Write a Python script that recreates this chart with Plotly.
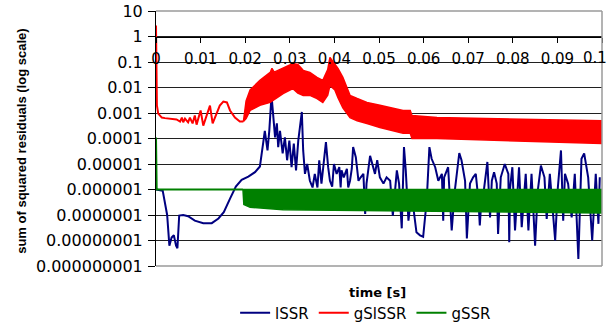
import plotly.graph_objects as go

# ---------------- data ----------------
lssr_t = [0, 0.0015, 0.0025, 0.003, 0.0035, 0.004, 0.0045, 0.0048, 0.0052, 0.0061,
          0.0072, 0.0087, 0.0106, 0.0125, 0.014, 0.0152, 0.0166, 0.0179, 0.0192, 0.0207,
          0.0222, 0.0233, 0.0241, 0.0244, 0.025, 0.0254, 0.0259, 0.0263, 0.0267, 0.0271,
          0.0274, 0.0278, 0.0284, 0.0289, 0.0294, 0.0299, 0.0304, 0.0309, 0.0314, 0.0319,
          0.0323, 0.0327, 0.033, 0.0334, 0.0339, 0.0345, 0.0351, 0.0356, 0.0362, 0.0366,
          0.0371, 0.0377, 0.0381, 0.0386, 0.039, 0.0395, 0.0399, 0.0405, 0.0411, 0.0414,
          0.0416, 0.0421, 0.0428, 0.0431, 0.0435, 0.0439, 0.0442, 0.0448, 0.0454, 0.0459,
          0.0465, 0.0469, 0.0472, 0.048, 0.0486, 0.0491, 0.0496, 0.0502, 0.051, 0.0517,
          0.0525, 0.0531, 0.054, 0.0545, 0.0551, 0.0556, 0.056, 0.0566, 0.0573, 0.0578,
          0.0584, 0.0592, 0.0599, 0.0607, 0.0613, 0.0618, 0.0626, 0.0633, 0.0641, 0.0644,
          0.0646, 0.0655, 0.0663, 0.067, 0.068, 0.0685, 0.0693, 0.0697, 0.0704, 0.0711,
          0.0717, 0.0723, 0.0726, 0.073, 0.0735, 0.0743, 0.0749, 0.0753, 0.0758, 0.0764,
          0.0767, 0.0773, 0.0782, 0.079, 0.0792, 0.0794, 0.0799, 0.0805, 0.0814, 0.082,
          0.0829, 0.0835, 0.0842, 0.085, 0.0856, 0.0863, 0.0871, 0.0876, 0.0883, 0.0895,
          0.0901, 0.0908, 0.0913, 0.0917, 0.0924, 0.0932, 0.0939, 0.0947, 0.0954, 0.096,
          0.0969, 0.0978, 0.0986, 0.0992, 0.0995]
lssr_v = [1e-6, 9e-7, 1e-7, 6.3e-9, 1.3e-8, 1.6e-8, 6.3e-9, 5e-9, 9.5e-8, 1e-7,
          9e-8, 6e-8, 4.8e-8, 4.8e-8, 7.3e-8, 1.3e-7, 4.4e-7, 1.3e-6, 2.4e-6, 3.2e-6,
          4.8e-6, 8e-6, 8.3e-5, 2e-4, 3.4e-5, 2e-4, 4.9e-3, 6.9e-4, 1.1e-4, 3.9e-4,
          4.6e-5, 2e-4, 2.6e-5, 1.1e-4, 1.4e-5, 8.3e-5, 7.5e-6, 6.3e-5, 5.6e-6, 8.3e-5,
          3.9e-4, 1.1e-3, 3.4e-5, 4.1e-6, 1e-5, 2.2e-6, 1.2e-6, 4.1e-6, 1.2e-6, 1.4e-5,
          1.7e-6, 1.4e-5, 7.2e-5, 7.5e-6, 2.2e-6, 1.3e-6, 1e-5, 4.1e-6, 7.5e-6, 1.2e-6,
          5.6e-6, 3e-6, 6.5e-6, 1.2e-6, 2.2e-6, 6.5e-6, 4.6e-5, 1.85e-5, 2.2e-6, 3e-6,
          4.1e-6, 1.1e-7, 1.7e-6, 2.1e-5, 8.7e-6, 4.1e-6, 1.4e-5, 3e-6, 1.7e-6, 3e-6,
          2.2e-6, 9.5e-8, 5.6e-6, 1.7e-6, 3e-8, 4.6e-5, 5.6e-6, 6e-8, 7e-7, 1.5e-7,
          2.1e-8, 1.6e-8, 1.4e-8, 3.7e-7, 4.6e-5, 1.6e-5, 7.5e-6, 2.2e-6, 4.1e-6, 6e-8,
          3e-6, 7.5e-6, 2.5e-8, 9e-7, 2.7e-5, 1.4e-5, 2.2e-6, 1.2e-8, 1.7e-6, 3e-6,
          4.1e-6, 3.7e-7, 3.9e-8, 5e-7, 9e-7, 1.2e-5, 8e-8, 2.2e-6, 4.8e-6, 1.7e-6,
          1.8e-8, 3e-6, 1e-5, 4.1e-6, 8.5e-9, 1.2e-6, 7.5e-6, 2.5e-8, 7.5e-6, 3.3e-8,
          4.1e-6, 2.5e-8, 4.1e-6, 6.3e-9, 9e-7, 8.7e-6, 3e-6, 7e-8, 4.1e-6, 1e-8,
          1.2e-6, 3.4e-5, 6e-8, 4.1e-6, 1.7e-6, 8e-8, 4.1e-6, 1.9e-9, 1.6e-5, 2.6e-5,
          3e-6, 1e-8, 4.1e-6, 4.5e-8, 3e-6]

# gSlSSR: single line until the oscillation becomes a dense band
gslssr_t = [0, 0.0002, 0.0005, 0.0013, 0.002, 0.0028, 0.0039, 0.0046, 0.0054, 0.0058,
            0.0061, 0.0065, 0.0072, 0.0076, 0.0082, 0.0087, 0.0091, 0.0100, 0.0106, 0.0112,
            0.0121, 0.0127, 0.0136, 0.0143, 0.0151, 0.0159, 0.0166, 0.0177, 0.0188, 0.0196]
gslssr_v = [2.7, 2e-3, 9.5e-4, 6.6e-4, 6.3e-4, 6e-4, 5.6e-4, 5.6e-4, 4.6e-4, 6.6e-4,
            4.3e-4, 6e-4, 4.3e-4, 6.6e-4, 3.9e-4, 8e-4, 3.5e-4, 1.26e-3, 3.2e-4, 6.6e-4,
            1.96e-3, 3.9e-4, 9.5e-4, 1.96e-3, 2.8e-3, 2.6e-3, 1.26e-3, 6.6e-4, 4.6e-4, 4.6e-4]
# gSlSSR band envelope (upper / lower extremes of the dense oscillation)
gslssr_band_t = [0.0196, 0.0202, 0.0211, 0.0233, 0.0256, 0.026, 0.0265, 0.0285, 0.0307, 0.0318,
                 0.033, 0.0345, 0.0361, 0.0374, 0.0385, 0.039, 0.0401, 0.0408, 0.0419, 0.0435,
                 0.0451, 0.0473, 0.0502, 0.0554, 0.057, 0.0574, 0.063, 0.0778, 0.1]
gslssr_band_hi = [4.6e-4, 3e-3, 8e-3, 0.019, 0.039, 0.056, 0.04, 0.056, 0.087, 0.08,
                  0.047, 0.039, 0.025, 0.019, 0.05, 0.15, 0.087, 0.056, 0.025, 4.9e-3,
                  3.7e-3, 2.6e-3, 2e-3, 1.26e-3, 1.26e-3, 8e-4, 6.6e-4, 6e-4, 5e-4]
gslssr_band_lo = [4.6e-4, 6e-4, 1.26e-3, 2e-3, 2.6e-3, 3e-3, 3.5e-3, 5.8e-3, 9e-3, 6e-3,
                  4.9e-3, 4.9e-3, 3.7e-3, 2.6e-3, 5e-3, 0.012, 8e-3, 4e-3, 1.6e-3, 6.6e-4,
                  5e-4, 3.9e-4, 2.7e-4, 1.6e-4, 1.6e-4, 1e-4, 1e-4, 8.3e-5, 6.3e-5]

# gSSR
gssr_t = [0, 0.00015, 0.0195]
gssr_v = [1.1e-4, 1e-6, 1e-6]
gssr_band_t = [0.0195, 0.0197, 0.0211, 0.0285, 0.05, 0.075, 0.1]
gssr_band_hi = [1e-6, 1e-6, 1e-6, 1e-6, 1e-6, 1e-6, 1e-6]
gssr_band_lo = [1e-6, 2.6e-7, 2e-7, 1.6e-7, 1.5e-7, 1.3e-7, 1.2e-7]

x_ticks = [0, 0.01, 0.02, 0.03, 0.04, 0.05, 0.06, 0.07, 0.08, 0.09, 0.1]
# the label of the last tick ("0.1") is drawn as an annotation so it stays inside the picture
x_tick_text = ["0", "0.01", "0.02", "0.03", "0.04", "0.05", "0.06", "0.07", "0.08", "0.09", ""]
x_last_label = "0.1"
y_ticks = [10, 1, 0.1, 0.01, 0.001, 0.0001, 0.00001, 0.000001, 0.0000001, 0.00000001, 0.000000001]
y_tick_text = ["10", "1", "0.1", "0.01", "0.001", "0.0001", "0.00001", "0.000001",
               "0.0000001", "0.00000001", "0.000000001"]

BLUE = "#000080"
RED = "#FF0000"
GREEN = "#008000"

fig = go.Figure()
fig.add_trace(go.Scatter(x=lssr_t, y=lssr_v, mode="lines", name="lSSR",
                         line=dict(color=BLUE, width=2), legendgroup="l"))
fig.add_trace(go.Scatter(x=gslssr_t, y=gslssr_v, mode="lines", name="gSlSSR",
                         line=dict(color=RED, width=2), legendgroup="gs"))
fig.add_trace(go.Scatter(x=gslssr_band_t + gslssr_band_t[::-1],
                         y=gslssr_band_hi + gslssr_band_lo[::-1],
                         mode="lines", fill="toself", fillcolor=RED,
                         line=dict(color=RED, width=1.5), legendgroup="gs",
                         showlegend=False, name="gSlSSR"))
fig.add_trace(go.Scatter(x=gssr_t, y=gssr_v, mode="lines", name="gSSR",
                         line=dict(color=GREEN, width=2), legendgroup="g"))
fig.add_trace(go.Scatter(x=gssr_band_t + gssr_band_t[::-1],
                         y=gssr_band_hi + gssr_band_lo[::-1],
                         mode="lines", fill="toself", fillcolor=GREEN,
                         line=dict(color=GREEN, width=1.5), legendgroup="g",
                         showlegend=False, name="gSSR"))

fig.update_layout(
    width=610, height=328,
    margin=dict(l=156, r=8, t=11, b=62, autoexpand=False),
    paper_bgcolor="white", plot_bgcolor="white",
    showlegend=True,
    legend=dict(orientation="h", x=0.47, xanchor="center", y=-0.184, yanchor="middle",
                font=dict(family="DejaVu Sans", size=15, color="#000000"),
                itemwidth=30, tracegroupgap=0, bgcolor="rgba(0,0,0,0)"),
    xaxis=dict(range=[0, 0.1], tickvals=x_ticks, ticktext=x_tick_text,
               anchor="free", position=0.9, side="bottom", automargin=False,
               showline=True, linecolor="#000000", linewidth=1,
               ticks="outside", ticklen=5, tickcolor="#000000",
               showgrid=False, zeroline=False,
               tickfont=dict(family="DejaVu Sans", size=15, color="#000000"),
               ticklabelstandoff=3, ticklabeloverflow="allow"),
    yaxis=dict(type="log", range=[-9, 1], tickvals=y_ticks, ticktext=y_tick_text,
               automargin=False,
               showline=True, linecolor="#000000", linewidth=1,
               ticks="outside", ticklen=7, tickcolor="#000000",
               showgrid=True, gridcolor="#202020", gridwidth=1,
               zeroline=False,
               tickfont=dict(family="DejaVu Sans", size=16, color="#000000"),
               ticklabelstandoff=2, ticklabeloverflow="allow"),
    shapes=[
        dict(type="line", xref="paper", yref="paper", x0=1, x1=1, y0=0, y1=1,
             line=dict(color="#9a9a9a", width=1.5)),
        dict(type="line", xref="paper", yref="paper", x0=0, x1=1, y0=1, y1=1,
             line=dict(color="#9a9a9a", width=1.5)),
        dict(type="line", xref="paper", yref="paper", x0=0, x1=1, y0=0, y1=0,
             line=dict(color="#9a9a9a", width=1.5)),
    ],
    annotations=[
        dict(text="<b>sum of squared residuals (log scale)</b>", xref="paper", yref="paper",
             x=(22 - 156) / 446, y=0.487, xanchor="center", yanchor="middle",
             textangle=-90, showarrow=False,
             font=dict(family="Liberation Sans", size=13, color="#000000")),
        dict(text="<b>time [s]</b>", xref="paper", yref="paper",
             x=0.497, y=(266 - 292) / 255, xanchor="center", yanchor="middle",
             showarrow=False,
             font=dict(family="DejaVu Sans", size=13, color="#000000")),
        dict(text=x_last_label, xref="paper", yref="paper",
             x=(608 - 156) / 446, y=(266 - 58) / 255, xanchor="right", yanchor="middle",
             showarrow=False, borderpad=0,
             font=dict(family="DejaVu Sans", size=15, color="#000000")),
    ],
)

fig.write_html("out.html", config={"displayModeBar": False},
               post_script="document.body.style.margin='0';document.body.style.overflow='hidden';")
